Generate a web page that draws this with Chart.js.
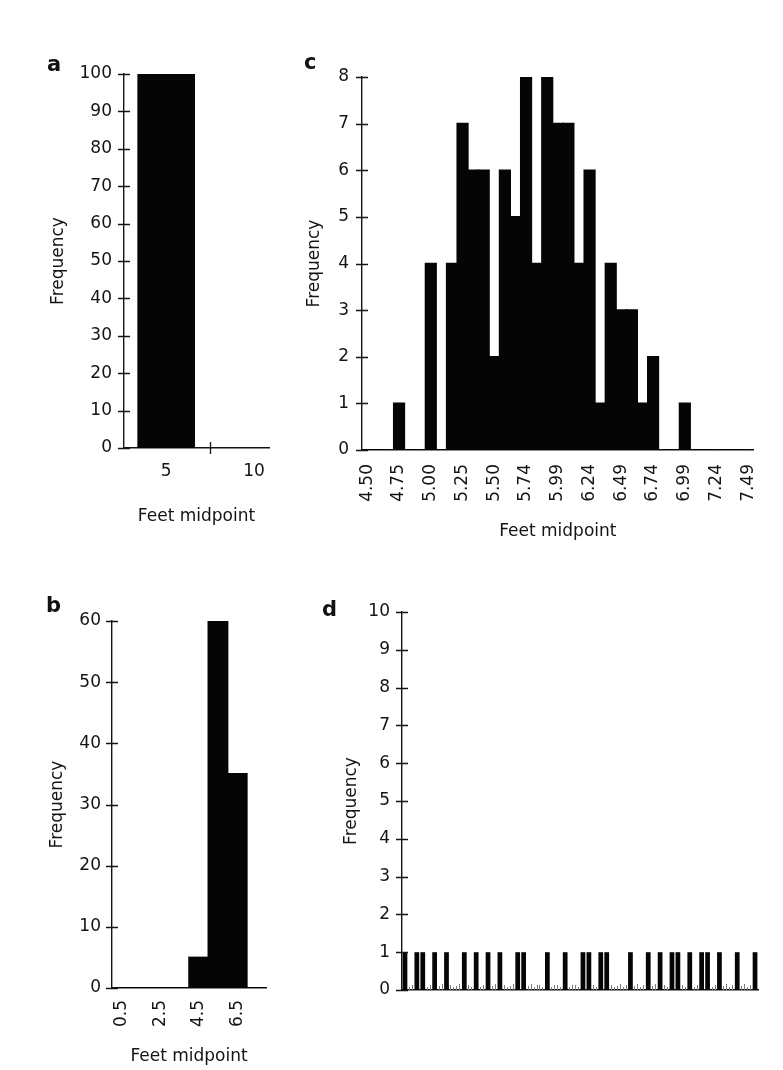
<!DOCTYPE html>
<html>
<head>
<meta charset="utf-8">
<title>Height histograms</title>
<script src="https://cdn.jsdelivr.net/npm/chart.js@4.4.1/dist/chart.umd.min.js"></script>
<style>
  body { margin: 0; background: #ffffff; }
  #page { position: relative; width: 783px; height: 1070px; overflow: hidden; }
  canvas { position: absolute; }
  .panel-letter {
    position: absolute;
    font-family: "DejaVu Sans", sans-serif;
    font-weight: bold;
    font-size: 21px;
    line-height: 21px;
    color: #111;
  }
</style>
</head>
<body>
<div id="page">
  <canvas id="chartA" width="290" height="520" style="left:0px;top:40px"></canvas>
  <canvas id="chartC" width="493" height="520" style="left:290px;top:40px"></canvas>
  <canvas id="chartB" width="290" height="510" style="left:0px;top:560px"></canvas>
  <canvas id="chartD" width="493" height="510" style="left:290px;top:560px"></canvas>
  <div class="panel-letter" style="left:47px;top:54px">a</div>
  <div class="panel-letter" style="left:304px;top:52px">c</div>
  <div class="panel-letter" style="left:46px;top:595px">b</div>
  <div class="panel-letter" style="left:322px;top:599px">d</div>
</div>
<script>
// Panel a: one 5-foot bin holds everybody
const aMidpoints = [5];
const aFreq = [100];
const aTickValues = [5, 10];
const aBinEdges = [2.5, 7.5];
const aAxisMin = 2.6;
const aAxisMax = 10.85;

// Panel b: 1-foot bins
const bTickLabels = ['0.5', '2.5', '4.5', '6.5'];
const bFreq = [0, 0, 0, 0, 5, 60, 35, 0];

// Panel c: 1-inch bins, every third one labelled
const cTickLabels = ['4.50', '4.75', '5.00', '5.25', '5.50', '5.74', '5.99',
                     '6.24', '6.49', '6.74', '6.99', '7.24', '7.49'];
const cFreq = [0, 0, 0, 1, 0, 0, 4, 0, 4, 7, 6, 6, 2, 6, 5, 8, 4, 8, 7,
               7, 4, 6, 1, 4, 3, 3, 1, 2, 0, 0, 1, 0, 0, 0, 0, 0, 0];

// Panel d: very fine bins, nobody shares one
const dFreq = [1, 0, 1, 1, 0, 1, 0, 1, 0, 0, 1, 0, 1, 0, 1, 0, 1, 0, 0, 1,
               1, 0, 0, 0, 1, 0, 0, 1, 0, 0, 1, 1, 0, 1, 1, 0, 0, 0, 1, 0,
               0, 1, 0, 1, 0, 1, 1, 0, 1, 0, 1, 1, 0, 1, 0, 0, 1, 0, 0, 1];

const ink = '#141414';
const barInk = '#050505';
const tickFont = { family: 'DejaVu Sans', size: 17 };
const titleFont = { family: 'DejaVu Sans', size: 17, lineHeight: 1.2 };
const halfLine = 17 * 1.2 / 2;

// axis tick marks that cross the axis line
const crossTicks = {
  id: 'crossTicks',
  afterDraw(chart, args, opts) {
    const { ctx, scales: { x, y } } = chart;
    ctx.save();
    ctx.strokeStyle = ink;
    ctx.lineWidth = 1.3;
    ctx.beginPath();
    y.ticks.forEach(t => {
      const py = Math.round(y.getPixelForValue(t.value)) + 0.5;
      ctx.moveTo(y.right - 6, py);
      ctx.lineTo(y.right + 6, py);
    });
    (opts.xMarks || []).forEach(v => {
      const px = Math.round(x.getPixelForValue(v)) + 0.5;
      ctx.moveTo(px, x.top - 6);
      ctx.lineTo(px, x.top + 6);
    });
    ctx.stroke();
    ctx.restore();
  }
};

// small grey hatch marks along the base of the fine-bin panel
const binHatch = {
  id: 'binHatch',
  beforeDatasetsDraw(chart) {
    const { ctx, scales: { x, y } } = chart;
    const base = y.getPixelForValue(0);
    const lens = [4, 6, 3, 5, 5, 3];
    ctx.save();
    ctx.strokeStyle = '#7a7a7a';
    ctx.lineWidth = 1;
    ctx.beginPath();
    for (let i = 0; i < dFreq.length; i++) {
      const px = x.getPixelForValue(i);
      [-2, 1].forEach((dx, k) => {
        const xx = Math.round(px + dx) + 0.5;
        ctx.moveTo(xx, base);
        ctx.lineTo(xx, base - lens[(i * 2 + k) % lens.length]);
      });
    }
    ctx.stroke();
    ctx.restore();
  }
};

function yAxis(max, step, width, titleX, gap) {
  return {
    min: 0,
    max: max,
    ticks: { stepSize: step, padding: gap, color: ink, font: tickFont },
    grid: { display: false, drawTicks: false },
    border: { color: ink, width: 1.4 },
    title: {
      display: true, text: 'Frequency', color: ink, font: titleFont,
      padding: { top: titleX - halfLine, bottom: 0 }
    },
    afterFit: s => { s.width = width; }
  };
}

function xTitle(text, fromBottom) {
  return {
    display: !!text, text: text, color: ink, font: titleFont,
    padding: { top: 0, bottom: fromBottom - halfLine }
  };
}

const baseOptions = {
  responsive: false,
  animation: false,
  events: [],
  plugins: { legend: { display: false }, tooltip: { enabled: false } }
};

// a
new Chart(document.getElementById('chartA'), {
  type: 'bar',
  data: {
    datasets: [{
      data: aMidpoints.map((m, i) => ({ x: m, y: aFreq[i] })),
      backgroundColor: barInk,
      barThickness: 57
    }]
  },
  options: {
    ...baseOptions,
    layout: { padding: { left: 0, top: 34, right: 21, bottom: 0 } },
    scales: {
      x: {
        type: 'linear',
        offset: false,
        min: aAxisMin,
        max: aAxisMax,
        afterBuildTicks: s => { s.ticks = aTickValues.map(v => ({ value: v })); },
        ticks: { color: ink, font: tickFont, padding: 13, maxRotation: 0 },
        grid: { display: false, drawTicks: false },
        border: { color: ink, width: 1.4 },
        title: xTitle('Feet midpoint', 43),
        afterFit: s => { s.height = 112; }
      },
      y: yAxis(100, 10, 124, 59, 12)
    },
    plugins: { ...baseOptions.plugins, crossTicks: { xMarks: [aBinEdges[1]] } }
  },
  plugins: [crossTicks]
});

// c
new Chart(document.getElementById('chartC'), {
  type: 'bar',
  data: {
    labels: cFreq.map((_, i) => i % 3 === 0 ? cTickLabels[i / 3] : ''),
    datasets: [{
      data: cFreq,
      backgroundColor: barInk,
      barPercentage: 1,
      categoryPercentage: 1,
      inflateAmount: 0.8
    }]
  },
  options: {
    ...baseOptions,
    layout: { padding: { left: 0, top: 37, right: 20, bottom: 0 } },
    scales: {
      x: {
        ticks: { color: ink, font: tickFont, padding: 14, autoSkip: false, minRotation: 90, maxRotation: 90 },
        grid: { display: false, drawTicks: false },
        border: { color: ink, width: 1.4 },
        title: xTitle('Feet midpoint', 28),
        afterFit: s => { s.height = 110; }
      },
      y: yAxis(8, 1, 72, 25, 13)
    }
  },
  plugins: [crossTicks]
});

// b
new Chart(document.getElementById('chartB'), {
  type: 'bar',
  data: {
    labels: bFreq.map((_, i) => i % 2 === 0 ? bTickLabels[i / 2] : ''),
    datasets: [{
      data: bFreq,
      backgroundColor: barInk,
      barPercentage: 1,
      categoryPercentage: 1,
      inflateAmount: 0.8
    }]
  },
  options: {
    ...baseOptions,
    layout: { padding: { left: 0, top: 61, right: 18, bottom: 0 } },
    scales: {
      x: {
        ticks: { color: ink, font: tickFont, padding: 12, autoSkip: false, minRotation: 90, maxRotation: 90 },
        grid: { display: false, drawTicks: false },
        border: { color: ink, width: 1.4 },
        title: xTitle('Feet midpoint', 13),
        afterFit: s => { s.height = 82; }
      },
      y: yAxis(60, 10, 112, 58, 11)
    }
  },
  plugins: [crossTicks]
});

// d
new Chart(document.getElementById('chartD'), {
  type: 'bar',
  data: {
    labels: dFreq.map((_, i) => String(i)),
    datasets: [{
      data: dFreq,
      backgroundColor: barInk,
      barPercentage: 0.8,
      categoryPercentage: 1,
      inflateAmount: 0
    }]
  },
  options: {
    ...baseOptions,
    layout: { padding: { left: 0, top: 52, right: 25, bottom: 0 } },
    scales: {
      x: {
        ticks: { display: false },
        grid: { display: false, drawTicks: false },
        border: { color: ink, width: 1.4 },
        title: xTitle('', 0),
        afterFit: s => { s.height = 80; }
      },
      y: yAxis(10, 1, 112, 62, 12)
    }
  },
  plugins: [crossTicks, binHatch]
});
</script>
</body>
</html>
